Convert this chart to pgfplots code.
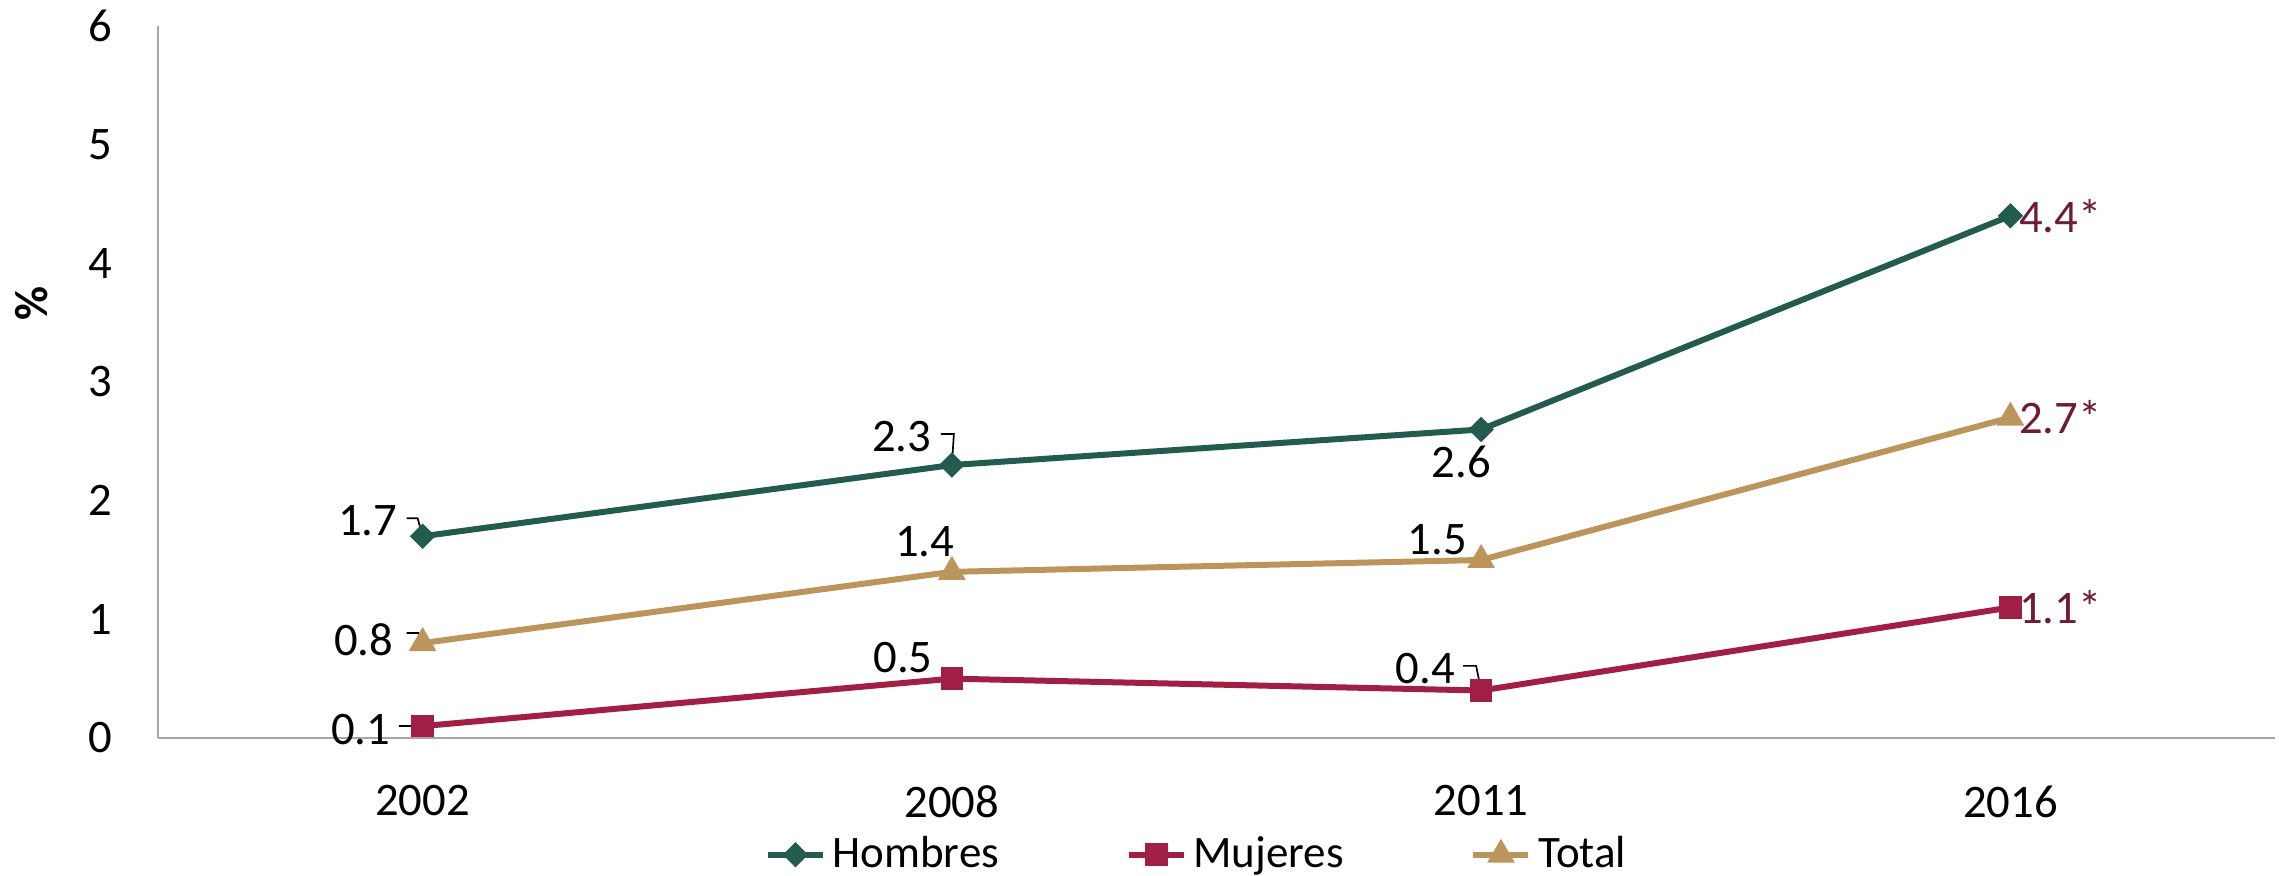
\documentclass[border=0pt]{standalone}
\usepackage{pgfplots}
\pgfplotsset{compat=1.18}
\usepackage{fontspec}
\setmainfont{Carlito}
\definecolor{hom}{HTML}{235B4E}
\definecolor{muj}{HTML}{A11F45}
\definecolor{tot}{HTML}{BC955C}
\definecolor{lab}{HTML}{6F1B33}
\definecolor{axgray}{HTML}{A6A6A6}
\begin{document}
\begin{tikzpicture}
\begin{axis}[
  scale only axis,
  width=635.1pt, height=213.6pt,
  xmin=-0.5, xmax=3.5, ymin=0, ymax=6,
  axis x line=bottom, axis y line=left,
  axis line style={-, draw=axgray, line width=0.6pt},
  xtick=data, xticklabels={2002,2008,2011,2016},
  ytick={0,1,2,3,4,5,6},
  major tick length=0pt,
  /pgf/number format/assume math mode=true,
  tick label style={font=\fontsize{14}{16}\selectfont, text=black},
  yticklabel style={anchor=east, inner sep=0pt, xshift=-13.5pt},
  xticklabel style={anchor=north, inner sep=0pt, yshift=-14.1pt},
  ylabel={\textbf{\%}},
  ylabel style={font=\fontsize{14}{16}\selectfont, anchor=center},
  every axis y label/.append style={at={(axis description cs:-0.0597,0.61)}},
  clip=false,
  legend columns=3,
  legend style={draw=none, fill=none, font=\fontsize{13.5}{15}\selectfont,
    at={(axis description cs:0.4917,-0.164)}, anchor=center,
    /tikz/every even column/.append style={column sep=36pt}},
  legend image code/.code={\draw[#1, mark repeat=2, mark phase=2] plot coordinates {(0cm,0cm) (0.29cm,0cm) (0.58cm,0cm)};},
]
% leader lines
\draw[black, line width=0.5pt] ([xshift=-4.8pt,yshift=5.4pt]axis cs:0,1.7) -- ([xshift=-1.5pt,yshift=5.4pt]axis cs:0,1.7) -- (axis cs:0,1.7);
\draw[black, line width=0.5pt] ([xshift=-3.3pt,yshift=9.3pt]axis cs:1,2.3) -- ([xshift=0.6pt,yshift=9.3pt]axis cs:1,2.3) -- (axis cs:1,2.3);
\draw[black, line width=0.5pt] ([xshift=-4.8pt,yshift=3pt]axis cs:0,0.8) -- ([xshift=-1.2pt,yshift=3pt]axis cs:0,0.8) -- (axis cs:0,0.8);
\draw[black, line width=0.5pt] ([xshift=-7.2pt]axis cs:0,0.1) -- (axis cs:0,0.1);
\draw[black, line width=0.5pt] ([xshift=-5.4pt,yshift=7.4pt]axis cs:2,0.4) -- ([xshift=-1.5pt,yshift=7.4pt]axis cs:2,0.4) -- (axis cs:2,0.4);

\addplot[hom, line width=1.8pt, mark=square*, mark size=1.8pt, mark options={solid, rotate=45}]
  coordinates {(0,1.7) (1,2.3) (2,2.6) (3,4.4)};
\addlegendentry{Hombres}
\addplot[muj, line width=1.8pt, mark=square*, mark size=2.5pt, mark options={solid}]
  coordinates {(0,0.1) (1,0.5) (2,0.4) (3,1.1)};
\addlegendentry{Mujeres}
\addplot[tot, line width=1.8pt, mark=triangle*, mark size=3pt, mark options={solid}]
  coordinates {(0,0.8) (1,1.4) (2,1.5) (3,2.7)};
\addlegendentry{Total}

% data labels
\begin{scope}[every node/.style={font=\fontsize{14}{16}\selectfont, inner sep=0pt}]
\node at ([xshift=-16.5pt,yshift=4.8pt]axis cs:0,1.7) {1.7};
\node at ([xshift=-15pt,yshift=8.7pt]axis cs:1,2.3) {2.3};
\node at ([xshift=-6pt,yshift=-9.6pt]axis cs:2,2.6) {2.6};
\node at ([xshift=-17.7pt,yshift=0.9pt]axis cs:0,0.8) {0.8};
\node at ([xshift=-8.1pt,yshift=9pt]axis cs:1,1.4) {1.4};
\node at ([xshift=-13.2pt,yshift=6pt]axis cs:2,1.5) {1.5};
\node at ([xshift=-18.6pt,yshift=-0.9pt]axis cs:0,0.1) {0.1};
\node at ([xshift=-14.7pt,yshift=6.3pt]axis cs:1,0.5) {0.5};
\node at ([xshift=-16.8pt,yshift=6.6pt]axis cs:2,0.4) {0.4};
\node[anchor=west, text=lab] at ([xshift=2.4pt]axis cs:3,4.4) {4.4*};
\node[anchor=west, text=lab] at ([xshift=2.4pt]axis cs:3,2.7) {2.7*};
\node[anchor=west, text=lab] at ([xshift=2.4pt]axis cs:3,1.1) {1.1*};
\end{scope}
\end{axis}
\pgfresetboundingbox
\path[use as bounding box] ([xshift=-47.4pt,yshift=-41.4pt]current axis.south west) rectangle ([xshift=1.2pt,yshift=7.8pt]current axis.north east);
\end{tikzpicture}
\end{document}
